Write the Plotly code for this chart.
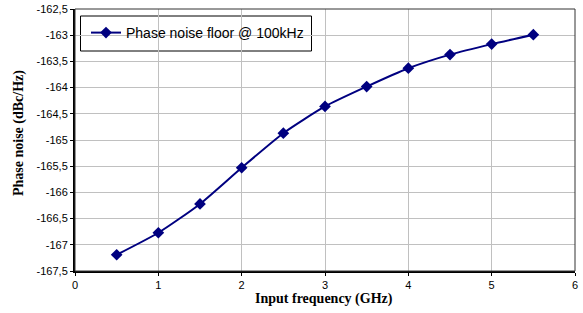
import plotly.graph_objects as go

freq_ghz = [0.5, 1.0, 1.5, 2.0, 2.5, 3.0, 3.5, 4.0, 4.5, 5.0, 5.5]
phase_noise = [-167.19, -166.77, -166.22, -165.53, -164.87, -164.36, -163.98, -163.63, -163.37, -163.17, -162.99]
series_name = "Phase noise floor @ 100kHz"
y_ticks = [-167.5, -167, -166.5, -166, -165.5, -165, -164.5, -164, -163.5, -163, -162.5]
y_ticktext = ["-167,5", "-167", "-166,5", "-166", "-165,5", "-165", "-164,5", "-164", "-163,5", "-163", "-162,5"]
x_ticks = [0, 1, 2, 3, 4, 5, 6]
x_title = "Input frequency (GHz)"
y_title = "Phase noise (dBc/Hz)"

W, H = 583, 313
L, R, T, B = 75, 8, 9, 42
pw, ph = W - L - R, H - T - B

def px_x(x):
    return (x - L) / pw

def px_y(y):
    return 1 - (y - T) / ph

fig = go.Figure()
fig.add_trace(go.Scatter(
    x=freq_ghz, y=phase_noise, mode="lines+markers", name=series_name,
    line=dict(color="#000080", width=2, shape="spline", smoothing=0.6),
    marker=dict(symbol="diamond", size=9, color="#000080"),
    cliponaxis=False,
))

fig.update_layout(
    width=W, height=H,
    margin=dict(l=L, r=R, t=T, b=B),
    paper_bgcolor="white", plot_bgcolor="white",
    font=dict(family="Liberation Sans, Arial", size=11, color="black"),
    showlegend=True,
    legend=dict(
        x=px_x(86), y=px_y(33), xanchor="left", yanchor="middle",
        bgcolor="rgba(0,0,0,0)", borderwidth=0,
        font=dict(family="Liberation Sans, Arial", size=14, color="black"),
    ),
)
fig.update_xaxes(
    range=[0, 6], tickvals=x_ticks, ticktext=[str(v) for v in x_ticks],
    showgrid=True, gridcolor="#c0c0c0", gridwidth=1,
    showline=True, linecolor="black", linewidth=2, mirror=False,
    ticks="outside", ticklen=3, tickcolor="black",
    zeroline=False, automargin=False,
)
fig.update_yaxes(
    range=[-167.5, -162.5], tickvals=y_ticks, ticktext=y_ticktext,
    showgrid=True, gridcolor="#c0c0c0", gridwidth=1,
    showline=True, linecolor="black", linewidth=2, mirror=False,
    ticks="outside", ticklen=3, tickcolor="black",
    zeroline=False, automargin=False,
)
# plot area border (top/right)
fig.add_shape(type="rect", xref="paper", yref="paper", x0=0, y0=0, x1=1, y1=1,
              line=dict(color="#333333", width=1), fillcolor="rgba(0,0,0,0)", layer="above")
# legend box
fig.add_shape(type="rect", xref="paper", yref="paper",
              x0=px_x(80.5), x1=px_x(311.5), y0=px_y(51), y1=px_y(16),
              line=dict(color="black", width=1), fillcolor="white", layer="below")

fig.add_annotation(text="<b>" + x_title + "</b>", xref="paper", yref="paper",
                   x=px_x(324), y=px_y(299), showarrow=False, xanchor="center", yanchor="middle",
                   font=dict(family="Liberation Serif, Times New Roman", size=14, color="black"))
fig.add_annotation(text="<b>" + y_title + "</b>", xref="paper", yref="paper",
                   x=px_x(19), y=px_y(133), showarrow=False, xanchor="center", yanchor="middle",
                   textangle=-90,
                   font=dict(family="Liberation Serif, Times New Roman", size=14, color="black"))

fig.write_html("out.html", config={"displayModeBar": False},
               post_script="document.body.style.margin='0';document.body.style.padding='0';")
